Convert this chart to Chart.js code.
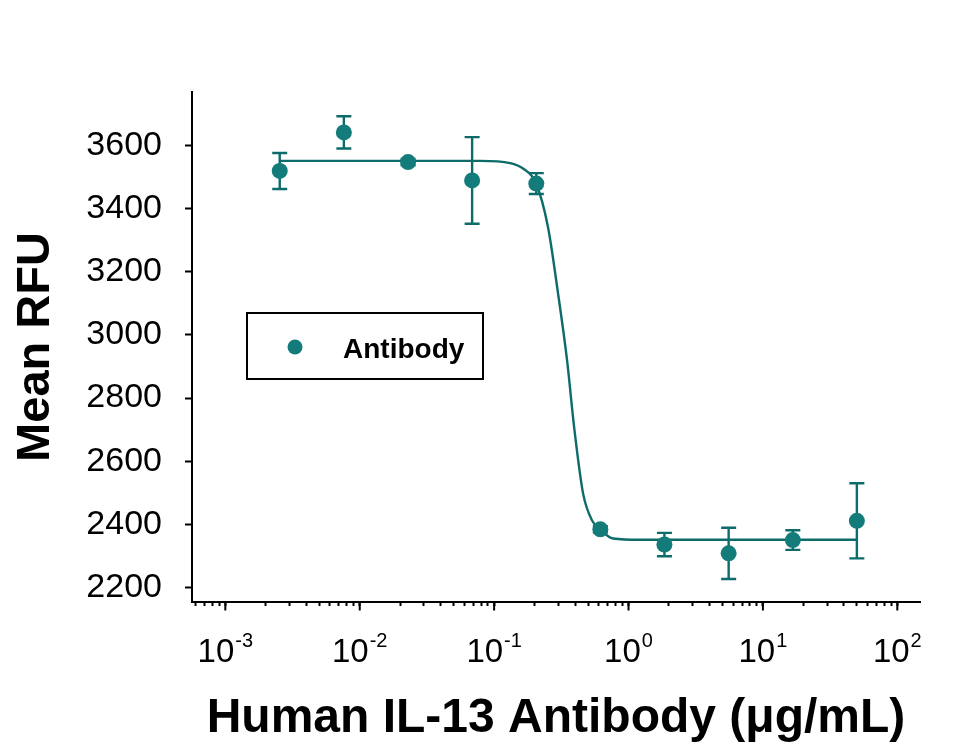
<!DOCTYPE html>
<html>
<head>
<meta charset="utf-8">
<title>Human IL-13 Antibody</title>
<script src="https://cdn.jsdelivr.net/npm/chart.js@4.4.1/dist/chart.umd.min.js"></script>
<style>
  html, body { margin: 0; padding: 0; background: #fff; }
  #wrap { width: 968px; height: 753px; position: relative; }
</style>
</head>
<body>
<div id="wrap"><canvas id="doseChart"></canvas></div>
<script>
// measured points, 3-fold dilution series (ug/mL)
var concentrations = [0.00254, 0.00762, 0.0229, 0.0686, 0.206, 0.617, 1.85, 5.56, 16.7, 50];
var meanRFU = [3519, 3641, 3547, 3489, 3479, 2384, 2336, 2308, 2350, 2411];
var errRFU = [57, 51, 10, 137, 33, 10, 37, 81, 31, 119];

// fitted curve
var fitConc = [0.00254, 0.0787, 0.1315, 0.165, 0.205, 0.252, 0.299, 0.349, 0.394, 0.459, 0.536, 0.614, 0.767, 1.22, 50];
var fitRFU = [3551, 3551, 3544, 3526, 3480, 3340, 3131, 2919, 2707, 2498, 2412, 2384, 2355, 2351, 2351];

// axes
var yTicks = [2200, 2400, 2600, 2800, 3000, 3200, 3400, 3600];
var xExponents = [-4, -3, -2, -1, 0, 1, 2];
var xLabelExponents = ['-3', '-2', '-1', '0', '1', '2'];
var minorMantissas = [1, 2, 3, 4, 5, 6, 7, 8, 9];

var teal = '#137c7a';
var tealLine = '#0d6b6a';
var fontFamily = '"Liberation Sans", Arial, sans-serif';

var pointData = concentrations.map(function (c, i) { return { x: c, y: meanRFU[i] }; });
var fitData = fitConc.map(function (c, i) { return { x: c, y: fitRFU[i] }; });

// error bars behind the markers
var errorBars = {
  id: 'errorBars',
  beforeDatasetsDraw: function (chart) {
    var ctx = chart.ctx;
    var xs = chart.scales.x, ys = chart.scales.y;
    ctx.save();
    ctx.strokeStyle = tealLine;
    ctx.lineWidth = 2.4;
    for (var i = 0; i < concentrations.length; i++) {
      var px = xs.getPixelForValue(concentrations[i]);
      var top = ys.getPixelForValue(meanRFU[i] + errRFU[i]);
      var bot = ys.getPixelForValue(meanRFU[i] - errRFU[i]);
      ctx.beginPath();
      ctx.moveTo(px, top); ctx.lineTo(px, bot);
      ctx.moveTo(px - 7.5, top); ctx.lineTo(px + 7.5, top);
      ctx.moveTo(px - 7.5, bot); ctx.lineTo(px + 7.5, bot);
      ctx.stroke();
    }
    ctx.restore();
  }
};

// x tick labels as 10 with raised exponent, plus longer major ticks
var logLabels = {
  id: 'logLabels',
  afterDraw: function (chart) {
    var ctx = chart.ctx;
    var xs = chart.scales.x;
    var base = chart.chartArea.bottom;
    ctx.save();
    ctx.strokeStyle = '#000';
    ctx.lineWidth = 2;
    ctx.fillStyle = '#000';
    ctx.textBaseline = 'alphabetic';
    xLabelExponents.forEach(function (ex) {
      var px = xs.getPixelForValue(Math.pow(10, Number(ex)));
      ctx.beginPath();
      ctx.moveTo(px, base);
      ctx.lineTo(px, base + 8.5);
      ctx.stroke();
      ctx.font = '33px ' + fontFamily;
      var w1 = ctx.measureText('10').width;
      ctx.font = '20px ' + fontFamily;
      var w2 = ctx.measureText(ex).width;
      var left = px - (w1 + w2 + 1) / 2;
      ctx.font = '33px ' + fontFamily;
      ctx.textAlign = 'left';
      ctx.fillText('10', left, 662);
      ctx.font = '20px ' + fontFamily;
      ctx.fillText(ex, left + w1 + 1, 647);
    });
    ctx.restore();
  }
};

// boxed legend inside the plot
var boxLegend = {
  id: 'boxLegend',
  afterDraw: function (chart) {
    var ctx = chart.ctx;
    var ds = chart.data.datasets[0];
    ctx.save();
    ctx.strokeStyle = '#000';
    ctx.lineWidth = 2;
    ctx.strokeRect(247, 313, 236, 66);
    ctx.fillStyle = ds.backgroundColor;
    ctx.beginPath();
    ctx.arc(295, 347, 7.5, 0, Math.PI * 2);
    ctx.fill();
    ctx.fillStyle = '#000';
    ctx.font = 'bold 28px ' + fontFamily;
    ctx.textAlign = 'left';
    ctx.textBaseline = 'alphabetic';
    ctx.fillText(ds.label, 343, 358);
    ctx.restore();
  }
};

var ctx = document.getElementById('doseChart').getContext('2d');
var doseChart = new Chart(ctx, {
  type: 'scatter',
  data: {
    datasets: [{
      label: 'Antibody',
      data: pointData,
      backgroundColor: teal,
      borderColor: teal,
      borderWidth: 0,
      pointRadius: 8,
      showLine: false
    }, {
      label: 'fit',
      data: fitData,
      showLine: true,
      borderColor: tealLine,
      borderWidth: 2.4,
      pointRadius: 0,
      cubicInterpolationMode: 'monotone',
      fill: false
    }]
  },
  options: {
    responsive: true,
    maintainAspectRatio: false,
    animation: false,
    devicePixelRatio: 1,
    layout: { padding: { top: 92, right: 48, left: 0, bottom: 0 } },
    plugins: {
      legend: { display: false },
      tooltip: { enabled: false }
    },
    scales: {
      x: {
        type: 'logarithmic',
        min: 0.000565,
        max: 147.5,
        afterBuildTicks: function (scale) {
          var t = [];
          xExponents.forEach(function (e) {
            minorMantissas.forEach(function (m) {
              var v = m * Math.pow(10, e);
              if (v >= scale.min && v <= scale.max) t.push({ value: v, major: m === 1 });
            });
          });
          scale.ticks = t;
        },
        afterFit: function (scale) { scale.height = 151; },
        border: { display: true, color: '#000', width: 2 },
        grid: { drawOnChartArea: false, drawTicks: true, tickLength: 4, tickColor: '#000', tickWidth: 2 },
        ticks: { display: false },
        title: {
          display: true,
          text: 'Human IL-13 Antibody (μg/mL)',
          color: '#000',
          font: { family: fontFamily, size: 48, weight: 'bold', lineHeight: 1 },
          padding: { top: 0, bottom: 10.6 }
        }
      },
      y: {
        min: 2154,
        max: 3769,
        afterBuildTicks: function (scale) {
          scale.ticks = yTicks.map(function (v) { return { value: v }; });
        },
        afterFit: function (scale) { scale.width = 192; },
        border: { display: true, color: '#000', width: 2 },
        grid: { drawOnChartArea: false, drawTicks: true, tickLength: 7, tickColor: '#000', tickWidth: 2 },
        ticks: {
          color: '#000',
          padding: 23,
          font: { family: fontFamily, size: 34 },
          callback: function (v) { return String(v); }
        },
        title: {
          display: true,
          text: 'Mean RFU',
          color: '#000',
          font: { family: fontFamily, size: 47, weight: 'bold', lineHeight: 1 },
          padding: { top: 13, bottom: 0 }
        }
      }
    }
  },
  plugins: [errorBars, logLabels, boxLegend]
});
</script>
</body>
</html>
